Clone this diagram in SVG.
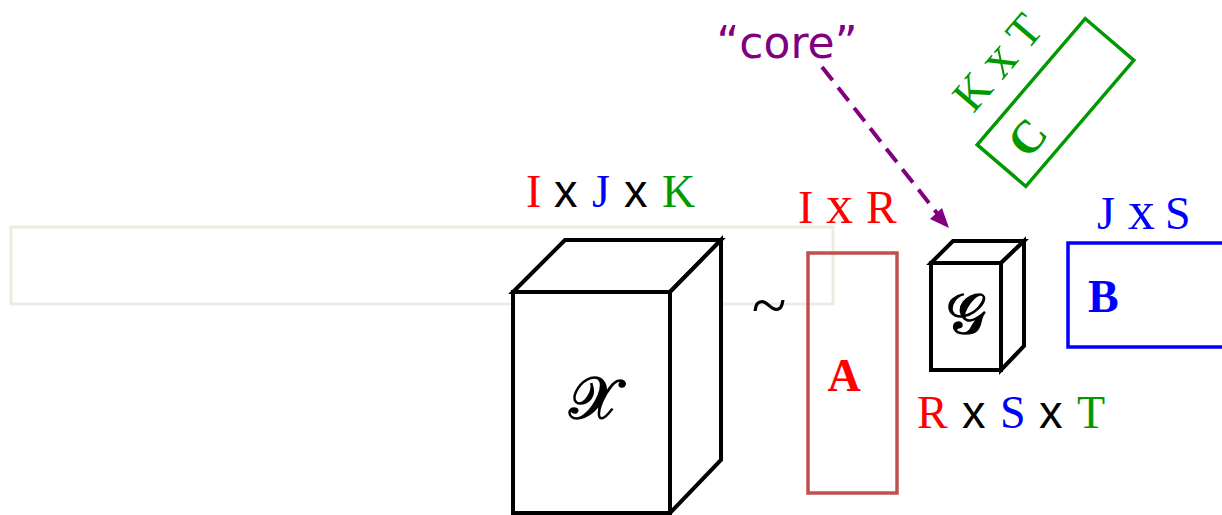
<svg xmlns="http://www.w3.org/2000/svg" width="1222" height="515" viewBox="0 0 1222 515">
<defs>
<style>
.serif{font-family:"Liberation Serif","Times New Roman",serif;font-size:46px}
.sans{font-family:"Liberation Sans",Arial,sans-serif;font-size:47px;fill:#000}
.bigx{font-size:54px}
.bold{font-weight:bold}
.red{fill:#ff0000}.blue{fill:#0000ff}.green{fill:#009900}
.cube{fill:#fff;stroke:#000;stroke-width:4;stroke-linejoin:miter}
.cal{font-family:"DejaVu Serif","DejaVu Sans",serif;font-size:58px;fill:#000;stroke:#000;stroke-width:1.6}
</style>
</defs>
<rect width="1222" height="515" fill="#fff"/>
<rect id="placeholder" x="11" y="227" width="822" height="77" fill="none" stroke="#eeebe2" stroke-width="3"/>

<g id="tensorX">
<polygon class="cube" points="513,292 565,240 721,240 670,292"/>
<polygon class="cube" points="670,292 721,240 721,460 670,513"/>
<rect class="cube" x="513" y="292" width="157" height="221"/>
<text class="cal" x="594" y="418" text-anchor="middle">𝒳</text>
</g>
<g id="labelX">
<text class="serif red" x="526" y="207">I</text>
<text class="sans" x="554" y="207">x</text>
<text class="serif blue" x="592" y="207">J</text>
<text class="sans" x="624" y="207">x</text>
<text class="serif green" x="662" y="207">K</text>
</g>

<text id="tilde" class="serif" x="769" y="327" text-anchor="middle" style="font-size:64px">~</text>

<g id="matrixA">
<rect x="808" y="253" width="89" height="240" fill="none" stroke="#c0504d" stroke-width="3.5"/>
<text class="serif bold red" x="844" y="391" text-anchor="middle">A</text>
<text class="serif red" x="798" y="223">I</text>
<text class="serif red bigx" x="826" y="223">x</text>
<text class="serif red" x="866" y="223">R</text>
</g>

<g id="coreG">
<polygon class="cube" points="931,263 953,241 1024,241 1001,263"/>
<polygon class="cube" points="1001,263 1024,241 1024,346 1001,370"/>
<rect class="cube" x="931" y="263" width="70" height="107"/>
<text class="cal" x="966" y="333" text-anchor="middle" style="font-size:56px">𝒢</text>
</g>
<g id="labelG">
<text class="serif red" x="917" y="428">R</text>
<text class="sans" x="962" y="428">x</text>
<text class="serif blue" x="1000" y="428">S</text>
<text class="sans" x="1039" y="428">x</text>
<text class="serif green" x="1077" y="428">T</text>
</g>

<g id="matrixB">
<rect x="1068" y="243" width="180" height="104" fill="none" stroke="#0000ff" stroke-width="3.5"/>
<text class="serif bold blue" x="1088" y="312">B</text>
<text class="serif blue" x="1097" y="229">J</text>
<text class="serif blue bigx" x="1128" y="229">x</text>
<text class="serif blue" x="1165" y="229">S</text>
</g>

<g id="matrixC">
<g transform="translate(1055.5,102.5) rotate(-49.4)">
<rect x="-83" y="-32" width="166" height="64" fill="none" stroke="#009900" stroke-width="3.5"/>
</g>
<text class="serif bold green" transform="translate(1027,137) rotate(-49.4)" x="0" y="16" text-anchor="middle">C</text>
<text class="serif green" transform="translate(997,62) rotate(-49.4)" x="0" y="16" text-anchor="middle" style="font-size:46px">K <tspan class="bigx">x</tspan> T</text>
</g>

<g id="coreLabel">
<text x="787" y="58" text-anchor="middle" style="font-family:'DejaVu Sans',sans-serif;font-size:44px;fill:#800080">“core”</text>
</g>

<g id="connectors">
<line x1="822" y1="67" x2="940" y2="217" stroke="#800080" stroke-width="4" stroke-dasharray="17,9"/>
<path d="M949,228 L930,219 L942,208 z" fill="#800080"/>
</g>
</svg>
